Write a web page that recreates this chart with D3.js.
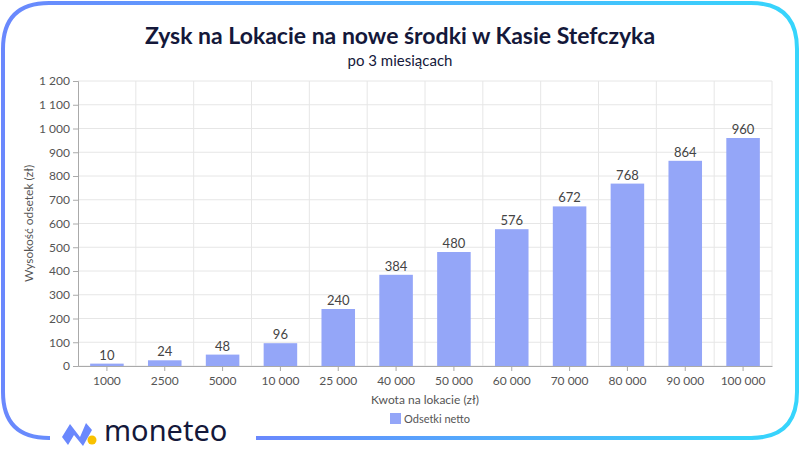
<!DOCTYPE html>
<html><head><meta charset="utf-8">
<script src="https://cdn.jsdelivr.net/npm/d3@7"></script>
<style>body{margin:0;background:#fff}</style>
</head><body><svg width="800" height="450"></svg>
<script>
const categories = ["1000","2500","5000","10 000","25 000","40 000","50 000","60 000","70 000","80 000","90 000","100 000"];
const values = [10,24,48,96,240,384,480,576,672,768,864,960];
const yTicks = [0,100,200,300,400,500,600,700,800,900,1000,1100,1200];

const svg = d3.select("svg");
const font = "Lato, 'Open Sans', sans-serif";
const fmt = v => d3.format(",")(v).replace(/,/g, " ");

// frame gradient
const defs = svg.append("defs");
const grad = defs.append("linearGradient").attr("id","fr").attr("x1","0").attr("x2","1");
grad.append("stop").attr("offset","0").attr("stop-color","#6a88fd");
grad.append("stop").attr("offset","1").attr("stop-color","#36d5fc");

// frame: rounded rect with gap on bottom for logo
const L = 3, T = 3, R = 797, B = 438, r = 46;
svg.append("path")
  .attr("d", `M${R-r},${B} Q${R},${B} ${R},${B-r} L${R},${T+r} Q${R},${T} ${R-r},${T} L${L+r},${T} Q${L},${T} ${L},${T+r} L${L},${B-r} Q${L},${B} ${L+r},${B} L50,${B}`)
  .attr("fill","none").attr("stroke","url(#fr)").attr("stroke-width",4);
svg.append("rect").attr("x",256).attr("y",B-2).attr("width",R-r-254).attr("height",4).attr("fill","url(#fr)");

// titles
svg.append("text").attr("x",400).attr("y",44).attr("text-anchor","middle")
  .attr("font-family",font).attr("font-weight","bold").attr("font-size",23).attr("fill","#14183a")
  .text("Zysk na Lokacie na nowe środki w Kasie Stefczyka");
svg.append("text").attr("x",400).attr("y",66).attr("text-anchor","middle")
  .attr("font-family",font).attr("font-size",15).attr("fill","#14183a").text("po 3 miesiącach");

const m = {left:78, right:772, top:81, bottom:366};
const x = d3.scaleBand().domain(categories).range([m.left,m.right]).paddingInner(0.42).paddingOuter(0.21);
const xg = d3.scaleBand().domain(categories).range([m.left,m.right]);
const y = d3.scaleLinear().domain([0,1200]).range([m.bottom,m.top]);

const g = svg.append("g");
// grid
g.selectAll(".hg").data(yTicks).enter().append("line")
  .attr("x1",m.left).attr("x2",m.right).attr("y1",d=>y(d)).attr("y2",d=>y(d))
  .attr("stroke","#e6e6e6");
g.selectAll(".vg").data(categories.slice(1)).enter().append("line")
  .attr("x1",d=>xg(d)).attr("x2",d=>xg(d)).attr("y1",m.top).attr("y2",m.bottom)
  .attr("stroke","#e6e6e6");
g.append("line").attr("x1",m.right).attr("x2",m.right).attr("y1",m.top).attr("y2",m.bottom).attr("stroke","#e6e6e6");

// bars
g.selectAll(".bar").data(values).enter().append("rect")
  .attr("x",(d,i)=>x(categories[i])).attr("width",x.bandwidth())
  .attr("y",d=>y(d)).attr("height",d=>y(0)-y(d)).attr("fill","#94a6f8");
g.selectAll(".lbl").data(values).enter().append("text")
  .attr("x",(d,i)=>x(categories[i])+x.bandwidth()/2).attr("y",d=>y(d)-4)
  .attr("text-anchor","middle").attr("font-family",font).attr("font-size",13).attr("fill","#444")
  .text(d=>fmt(d));

// axes
const ya = svg.append("g").attr("transform",`translate(${m.left},0)`)
  .call(d3.axisLeft(y).tickValues(yTicks).tickFormat(fmt).tickSize(5));
const xa = svg.append("g").attr("transform",`translate(0,${m.bottom})`)
  .call(d3.axisBottom(xg).tickSize(5).tickSizeOuter(0));
[ya,xa].forEach(a=>{
  a.selectAll("path,line").attr("stroke","#aaa");
  a.selectAll("text").attr("font-family",font).attr("font-size",12).attr("fill","#555");
});
xa.selectAll("text").attr("dy","0.9em");

svg.append("text").attr("x",(m.left+m.right)/2).attr("y",404).attr("text-anchor","middle")
  .attr("font-family",font).attr("font-size",12).attr("fill","#555").text("Kwota na lokacie (zł)");
svg.append("text").attr("transform",`translate(33,${(m.top+m.bottom)/2}) rotate(-90)`).attr("text-anchor","middle")
  .attr("font-family",font).attr("font-size",12).attr("fill","#555").text("Wysokość odsetek (zł)");

// legend
svg.append("rect").attr("x",390).attr("y",413).attr("width",11).attr("height",11).attr("fill","#94a6f8");
svg.append("text").attr("x",404).attr("y",423).attr("font-family",font).attr("font-size",11).attr("fill","#555").text("Odsetki netto");

// logo
const lg = svg.append("g");
lg.append("path").attr("d","M62,437 L70,424 L80,437 L86,423 L92,430 L83,446 L74,435 L68,445 Z").attr("fill","#6a88fd");
lg.append("circle").attr("cx",92).attr("cy",440).attr("r",4.5).attr("fill","#f9c100");
lg.append("text").attr("x",104).attr("y",441).attr("font-family","'Noto Sans', sans-serif").attr("font-size",29)
  .attr("fill","#14183a").text("moneteo");
</script></body></html>
